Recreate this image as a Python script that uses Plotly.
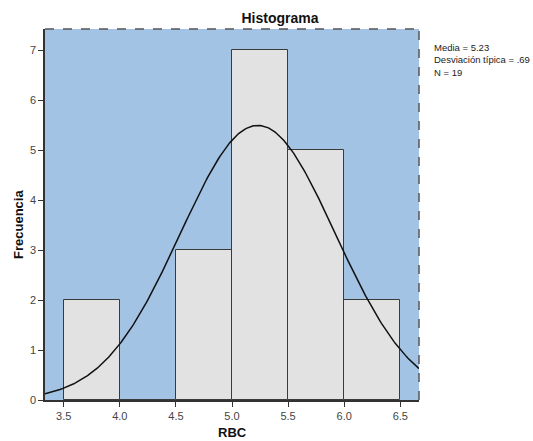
import numpy as np
import plotly.graph_objects as go

# Data
bin_starts = [3.5, 4.0, 4.5, 5.0, 5.5, 6.0]
bin_width = 0.5
counts = [2, 0, 3, 7, 5, 2]
mean_val = 5.23
std_val = 0.69
n_val = 19
x_ticks = [3.5, 4.0, 4.5, 5.0, 5.5, 6.0, 6.5]
y_ticks = [0, 1, 2, 3, 4, 5, 6, 7]
stats_lines = ["Media = 5.23", "Desviación típica = .69", "N = 19"]

W, H = 533, 441
ML, MR, MT, MB = 45, 114, 29, 41

fig = go.Figure()
fig.add_trace(go.Bar(
    x=[b + bin_width / 2 for b in bin_starts], y=counts, width=bin_width,
    marker=dict(color="#e2e2e2", line=dict(color="#3a3a3a", width=1)),
    hoverinfo="skip", showlegend=False))

xs = np.linspace(3.333, 6.667, 300)
ys = n_val * bin_width * np.exp(-0.5 * ((xs - mean_val) / std_val) ** 2) / (std_val * np.sqrt(2 * np.pi))
fig.add_trace(go.Scatter(x=xs, y=ys, mode="lines", line=dict(color="#111111", width=1.5),
                         showlegend=False, hoverinfo="skip"))

tickfont = dict(family="Arial, Liberation Sans", size=11, color="#444444")
titlefont = dict(family="Arial, Liberation Sans", size=13, color="#111111")
fig.update_layout(
    width=W, height=H,
    margin=dict(l=ML, r=MR, t=MT, b=MB, autoexpand=False),
    paper_bgcolor="white", plot_bgcolor="#a2c3e4",
    bargap=0,
    title=dict(text="<b>Histograma</b>", x=280 / W, xanchor="center", xref="container",
               y=1 - 18 / H, yanchor="middle",
               font=dict(family="Arial, Liberation Sans", size=14, color="#111111")),
    xaxis=dict(range=[3.333, 6.667], tickvals=x_ticks, ticktext=[f"{v:.1f}" for v in x_ticks],
               showgrid=False, zeroline=False, showline=True, linecolor="#333333", linewidth=1.5,
               ticks="outside", ticklen=5, tickcolor="#333333", tickfont=tickfont, automargin=False),
    yaxis=dict(range=[0, 7.42], tickvals=y_ticks, showgrid=False, zeroline=False,
               showline=True, linecolor="#333333", linewidth=1.5,
               ticks="outside", ticklen=5, tickcolor="#333333", tickfont=tickfont, automargin=False),
)

pw = W - ML - MR
ph = H - MT - MB

# axis titles
fig.add_annotation(text="<b>RBC</b>", xref="paper", yref="paper",
                   x=(232 - ML) / pw, y=-(433 - (H - MB)) / ph, xanchor="center", yanchor="middle",
                   showarrow=False, font=titlefont)
fig.add_annotation(text="<b>Frecuencia</b>", xref="paper", yref="paper", textangle=-90,
                   x=-(ML - 18) / pw, y=(H - MB - 225) / ph, xanchor="center", yanchor="middle",
                   showarrow=False, font=titlefont)

# dashed frame top and right
fig.add_shape(type="line", xref="paper", yref="paper", x0=0, x1=1, y0=1, y1=1,
              line=dict(color="#555555", width=1.5, dash="dash"))
fig.add_shape(type="line", xref="paper", yref="paper", x0=1, x1=1, y0=0, y1=1,
              line=dict(color="#555555", width=1.5, dash="dash"))

fig.add_annotation(text="<br>".join(stats_lines), xref="paper", yref="paper",
                   x=(432 - ML) / pw, xanchor="left", align="left",
                   y=1 - (60 - MT) / ph, yanchor="middle",
                   showarrow=False, font=dict(family="Arial, Liberation Sans", size=9.5, color="#222222"))

fig.write_html("out.html")
